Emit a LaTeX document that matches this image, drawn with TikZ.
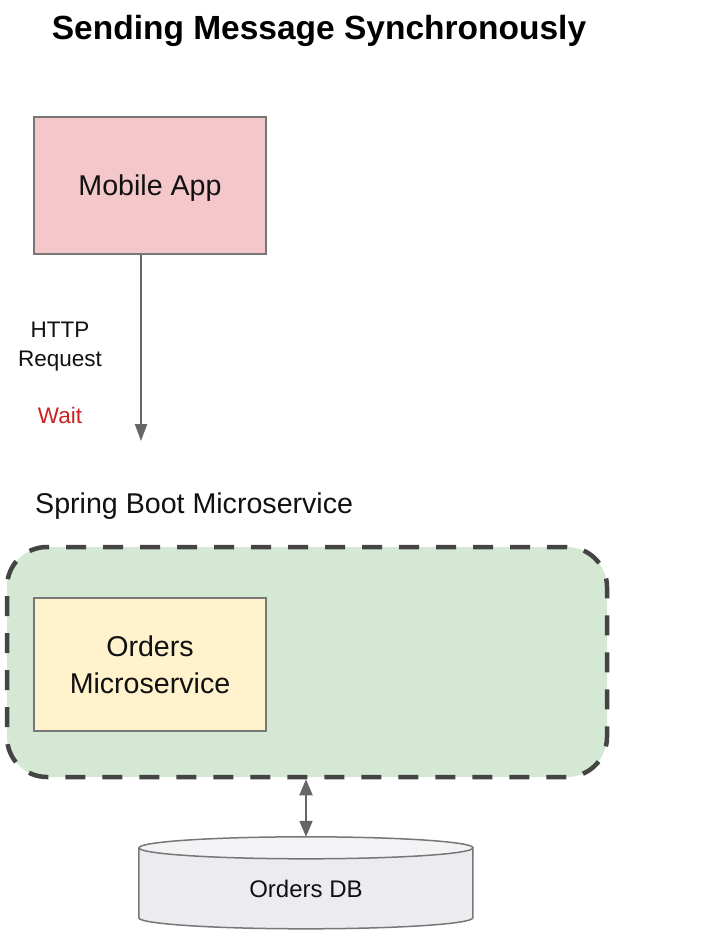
\documentclass[tikz,border=0pt]{standalone}
\usepackage{fontspec}
\setmainfont{Liberation Sans}
\usetikzlibrary{arrows.meta}
\definecolor{pinkfill}{HTML}{F4C7CA}
\definecolor{greenfill}{HTML}{D5E8D4}
\definecolor{yellowfill}{HTML}{FFF2CC}
\definecolor{dbfill}{HTML}{ECEBEF}
\definecolor{dbtopfill}{HTML}{F3F2F5}
\definecolor{boxline}{HTML}{777777}
\definecolor{dashline}{HTML}{444444}
\definecolor{arrowcol}{HTML}{666666}
\definecolor{waitred}{HTML}{CC2020}
\definecolor{textcol}{HTML}{111111}
\begin{document}
\begin{tikzpicture}[x=1pt,y=-1pt,
  box/.style={draw=boxline, line width=1.5pt, minimum width=232pt, inner sep=0pt, align=center, text=textcol},
  bigtext/.style={font=\fontsize{28.6}{37}\selectfont},
  conn/.style={draw=arrowcol, line width=2pt, -{Triangle[width=12pt,length=17pt]}},
  dconn/.style={draw=arrowcol, line width=2pt, {Triangle[width=13pt,length=16pt]}-{Triangle[width=13pt,length=16pt]}},
  lbl/.style={font=\fontsize{22.5}{29}\selectfont, align=center, text=textcol, inner sep=0pt}
]
\useasboundingbox (0,0) rectangle (707,939);
\fill[white] (0,0) rectangle (707,939);

% title
\node[anchor=base, font=\fontsize{33.5}{40}\bfseries, inner sep=0pt] (title) at (319,40) {Sending Message Synchronously};

% mobile app
\node[box, bigtext, fill=pinkfill, minimum height=137pt, text depth=0pt] (app) at (150,185.5) {Mobile App};

% request arrow
\coordinate (reqend) at (141,441);
\draw[conn] (app.south -| reqend) -- (reqend);
\node[lbl] (http) at (60,347) {HTTP\\Request};
\node[lbl, anchor=base, text=waitred] (wait) at (60,423) {Wait};

% spring boot
\node[anchor=base west, bigtext, inner sep=0pt, text=textcol] (sblabel) at (35,513) {Spring Boot Microservice};
\node[draw=dashline, fill=greenfill, line width=4.5pt, dash pattern=on 20pt off 17pt, rounded corners=40pt, minimum width=600pt, minimum height=230pt] (sb) at (307,662) {};
\node[box, bigtext, fill=yellowfill, minimum height=133pt] (orders) at (150,664.5) {Orders\\Microservice};

% database
\node[minimum width=334pt, minimum height=92pt, inner sep=0pt] (db) at (306,883) {};
\path[fill=dbfill, draw=boxline, line width=1.5pt] (db.north west) ++(0,11) -- ++(0,70) arc[start angle=180, end angle=0, x radius=167, y radius=11] -- ++(0,-70);
\path[fill=dbtopfill, draw=boxline, line width=1.5pt] (db.north) ++(0,11) ellipse[x radius=167, y radius=11];
\node[anchor=base, font=\fontsize{24}{29}\selectfont, inner sep=0pt, text=textcol] (dblabel) at (306,897) {Orders DB};

\draw[dconn] (sb.south -| db.north) -- (db.north);
\end{tikzpicture}
\end{document}
